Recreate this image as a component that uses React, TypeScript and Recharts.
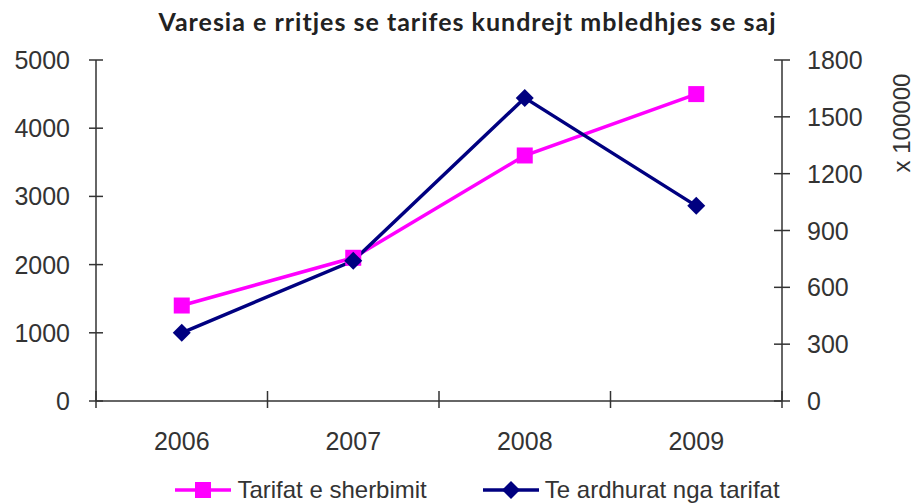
import { Label, Legend, Line, LineChart, XAxis, YAxis } from "recharts";

const VITET = ["2006", "2007", "2008", "2009"];
const TARIFAT = [1400, 2100, 3600, 4500];
const TE_ARDHURAT = [360, 740, 1600, 1030];
const TICKS_MAJTAS = [0, 1000, 2000, 3000, 4000, 5000];
const TICKS_DJATHTAS = [0, 300, 600, 900, 1200, 1500, 1800];

const ROZE = "#ff00ff";
const BLU = "#000080";
const GRI = "#333333";
const FONT = "'Liberation Sans', Arial, sans-serif";

const W = 915;
const H = 503;
const MAJTAS_W = 96;
const DJATHTAS_W = 133;
const GJYSMA = (W - MAJTAS_W - DJATHTAS_W) / (VITET.length * 2);

const data = VITET.map((viti, i) => ({ viti, tarifat: TARIFAT[i], ardhurat: TE_ARDHURAT[i] }));

function TickX({ x, y, index, payload }: any) {
  return (
    <g>
      <line x1={x - GJYSMA} x2={x - GJYSMA} y1={y - 10} y2={y + 7} stroke={GRI} strokeWidth={1.5} />
      {index === VITET.length - 1 && (
        <line x1={x + GJYSMA} x2={x + GJYSMA} y1={y - 10} y2={y + 7} stroke={GRI} strokeWidth={1.5} />
      )}
      <text x={x} y={y + 40} textAnchor="middle" dominantBaseline="central" fill={GRI} fontSize={25} fontFamily={FONT}>
        {payload.value}
      </text>
    </g>
  );
}

function TickMajtas({ x, y, payload }: any) {
  return (
    <g>
      <line x1={x - 7} x2={x + 7} y1={y} y2={y} stroke={GRI} strokeWidth={1.5} />
      <text x={x - 26} y={y} textAnchor="end" dominantBaseline="central" fill={GRI} fontSize={25} fontFamily={FONT}>
        {payload.value}
      </text>
    </g>
  );
}

function TickDjathtas({ x, y, payload }: any) {
  return (
    <g>
      <line x1={x - 8} x2={x + 8} y1={y} y2={y} stroke={GRI} strokeWidth={1.5} />
      <text x={x + 25} y={y} textAnchor="start" dominantBaseline="central" fill={GRI} fontSize={25} fontFamily={FONT}>
        {payload.value}
      </text>
    </g>
  );
}

function Katror({ cx, cy }: any) {
  if (cx == null || cy == null) return null;
  return <rect x={cx - 8} y={cy - 8} width={16} height={16} fill={ROZE} />;
}

function Diamant({ cx, cy }: any) {
  if (cx == null || cy == null) return null;
  return <polygon points={`${cx},${cy - 9} ${cx + 9},${cy} ${cx},${cy + 9} ${cx - 9},${cy}`} fill={BLU} />;
}

function Shenja({ ngjyra, forma }: { ngjyra: string; forma: "katror" | "diamant" }) {
  return (
    <svg width={56} height={20} style={{ marginRight: 6 }}>
      <line x1={0} x2={56} y1={10} y2={10} stroke={ngjyra} strokeWidth={3.5} />
      {forma === "katror" ? (
        <rect x={20} y={2} width={16} height={16} fill={ngjyra} />
      ) : (
        <polygon points="28,1 37,10 28,19 19,10" fill={ngjyra} />
      )}
    </svg>
  );
}

function Legjenda() {
  return (
    <div
      style={{
        height: 42,
        paddingTop: 16,
        boxSizing: "border-box",
        display: "flex",
        justifyContent: "center",
        alignItems: "center",
        paddingLeft: 40,
        fontFamily: FONT,
        fontSize: 24,
        color: GRI,
        lineHeight: "26px",
      }}
    >
      <span style={{ display: "flex", alignItems: "center", marginRight: 56 }}>
        <Shenja ngjyra={ROZE} forma="katror" />
        Tarifat e sherbimit
      </span>
      <span style={{ display: "flex", alignItems: "center" }}>
        <Shenja ngjyra={BLU} forma="diamant" />
        Te ardhurat nga tarifat
      </span>
    </div>
  );
}

export default function App() {
  return (
    <div style={{ position: "absolute", left: 0, top: 0, width: W, height: H, background: "#fff" }}>
      <div
        style={{
          position: "absolute",
          left: 0,
          top: 6,
          width: W,
          paddingLeft: 20,
          boxSizing: "border-box",
          textAlign: "center",
          fontFamily: "Lato, sans-serif",
          fontWeight: 700,
          fontSize: 25,
          letterSpacing: 1,
          color: "#222",
        }}
      >
        Varesia e rritjes se tarifes kundrejt mbledhjes se saj
      </div>
      <LineChart width={W} height={H} data={data} margin={{ top: 60, right: 0, bottom: 0, left: 0 }}>
        <XAxis
          dataKey="viti"
          height={60}
          padding={{ left: GJYSMA, right: GJYSMA }}
          stroke={GRI}
          strokeWidth={1.5}
          tickLine={false}
          tickSize={0}
          tickMargin={0}
          tick={<TickX />}
          interval={0}
        />
        <YAxis
          yAxisId="majtas"
          orientation="left"
          width={MAJTAS_W}
          domain={[0, 5000]}
          ticks={TICKS_MAJTAS}
          stroke={GRI}
          strokeWidth={1.5}
          tickLine={false}
          tickSize={0}
          tickMargin={0}
          tick={<TickMajtas />}
          interval={0}
        />
        <YAxis
          yAxisId="djathtas"
          orientation="right"
          width={DJATHTAS_W}
          domain={[0, 1800]}
          ticks={TICKS_DJATHTAS}
          stroke={GRI}
          strokeWidth={1.5}
          tickLine={false}
          tickSize={0}
          tickMargin={0}
          tick={<TickDjathtas />}
          interval={0}
        >
          <Label
            content={({ viewBox }: any) => (
              <text
                x={viewBox.x + 119}
                y={viewBox.y + 63}
                transform={`rotate(-90 ${viewBox.x + 119} ${viewBox.y + 63})`}
                textAnchor="middle"
                dominantBaseline="central"
                fill={GRI}
                fontSize={24}
                fontFamily={FONT}
              >
                x 100000
              </text>
            )}
          />
        </YAxis>
        <Legend verticalAlign="bottom" content={<Legjenda />} />
        <Line
          yAxisId="majtas"
          dataKey="tarifat"
          name="Tarifat e sherbimit"
          stroke={ROZE}
          strokeWidth={3.5}
          dot={<Katror />}
          activeDot={false}
          isAnimationActive={false}
        />
        <Line
          yAxisId="djathtas"
          dataKey="ardhurat"
          name="Te ardhurat nga tarifat"
          stroke={BLU}
          strokeWidth={3.5}
          dot={<Diamant />}
          activeDot={false}
          isAnimationActive={false}
        />
      </LineChart>
    </div>
  );
}
